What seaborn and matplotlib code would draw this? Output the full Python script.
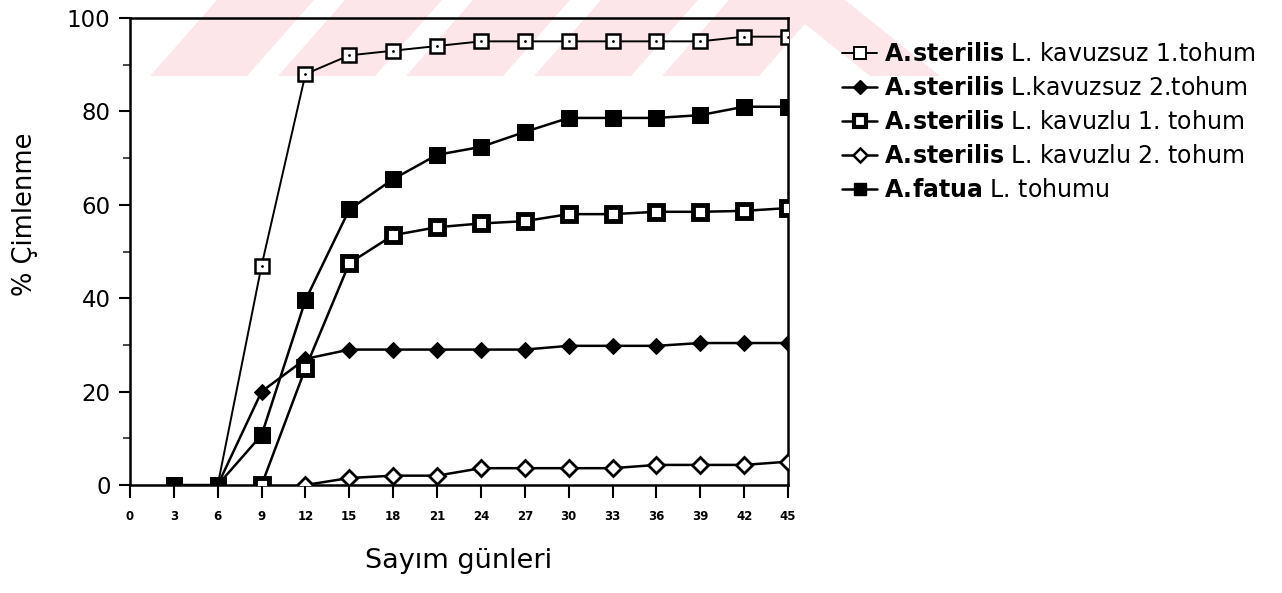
import matplotlib
matplotlib.use("Agg")
import matplotlib.pyplot as plt
from matplotlib.lines import Line2D
from matplotlib.patches import Polygon
import seaborn as sns

sns.set_theme(style="white")
plt.rcParams['font.family'] = ['DejaVu Sans']
plt.rcParams['text.color'] = 'black'
plt.rcParams['axes.labelcolor'] = 'black'
plt.rcParams['mathtext.fontset'] = 'custom'
plt.rcParams['mathtext.rm'] = 'DejaVu Sans'
plt.rcParams['mathtext.bf'] = 'DejaVu Sans:bold'

# ---- data ----
days_s1 = [6, 9, 12, 15, 18, 21, 24, 27, 30, 33, 36, 39, 42, 45]
s1_kavuzsuz1 = [0, 47, 88, 92, 93, 94, 95, 95, 95, 95, 95, 95, 96, 96]

days_s2 = [6, 9, 12, 15, 18, 21, 24, 27, 30, 33, 36, 39, 42, 45]
s2_kavuzsuz2 = [0, 20, 27, 29, 29, 29, 29, 29, 29.8, 29.8, 29.8, 30.4, 30.4, 30.4]

days_s3 = [9, 12, 15, 18, 21, 24, 27, 30, 33, 36, 39, 42, 45]
s3_kavuzlu1 = [0, 25, 47.5, 53.5, 55.2, 56, 56.5, 58, 58, 58.5, 58.5, 58.7, 59.3]

days_s4 = [12, 15, 18, 21, 24, 27, 30, 33, 36, 39, 42, 45]
s4_kavuzlu2 = [0, 1.5, 2, 2, 3.6, 3.6, 3.6, 3.6, 4.3, 4.3, 4.3, 5]

days_s5 = [3, 6, 9, 12, 15, 18, 21, 24, 27, 30, 33, 36, 39, 42, 45]
s5_fatua = [0, 0, 10.7, 39.6, 59, 65.5, 70.7, 72.4, 75.6, 78.6, 78.6, 78.6, 79.2, 81, 81]

labels = [r"$\bf{A.\!sterilis}$ L. kavuzsuz 1.tohum",
          r"$\bf{A.\!sterilis}$ L.kavuzsuz 2.tohum",
          r"$\bf{A.\!sterilis}$ L. kavuzlu 1. tohum",
          r"$\bf{A.\!sterilis}$ L. kavuzlu 2. tohum",
          r"$\bf{A.\!fatua}$ L. tohumu"]
xticks = list(range(0, 46, 3))
yticks = [0, 20, 40, 60, 80, 100]

W, H = 1282, 593
fig = plt.figure(figsize=(W / 100, H / 100), dpi=100)
fig.patch.set_facecolor('white')

# faint watermark stripes (background)
pink = '#fce6e9'
def px(x, y):
    return (x / W, 1 - y / H)
for x0 in [150, 278, 406, 534, 662]:
    pts = [px(x0, 76), px(x0 + 97, 76), px(x0 + 164, 0), px(x0 + 67, 0)]
    fig.patches.append(Polygon(pts, closed=True, transform=fig.transFigure,
                               facecolor=pink, edgecolor='none', zorder=-10))
pts = [px(775, 0), px(845, 0), px(940, 76), px(870, 76)]
fig.patches.append(Polygon(pts, closed=True, transform=fig.transFigure,
                           facecolor=pink, edgecolor='none', zorder=-10))

ax = fig.add_axes([130 / W, 1 - 485 / H, (788 - 130) / W, (485 - 18) / H])
ax.set_facecolor('none')

lw = 1.8
sns.lineplot(x=days_s1, y=s1_kavuzsuz1, ax=ax, color='black', lw=1.4,
             marker='s', markersize=10, markerfacecolor='white',
             markeredgecolor='black', markeredgewidth=1.8, zorder=3)
sns.scatterplot(x=days_s1, y=s1_kavuzsuz1, ax=ax, color='black', s=4,
                linewidth=0, zorder=4)
sns.lineplot(x=days_s2, y=s2_kavuzsuz2, ax=ax, color='black', lw=lw,
             marker='D', markersize=8, markerfacecolor='black',
             markeredgecolor='black', zorder=3)
sns.lineplot(x=days_s3, y=s3_kavuzlu1, ax=ax, color='black', lw=lw,
             marker='s', markersize=10, markerfacecolor='white',
             markeredgecolor='black', markeredgewidth=3.5, zorder=3)
sns.lineplot(x=days_s4, y=s4_kavuzlu2, ax=ax, color='black', lw=lw,
             marker='D', markersize=8, markerfacecolor='white',
             markeredgecolor='black', markeredgewidth=2, zorder=3)
sns.lineplot(x=days_s5, y=s5_fatua, ax=ax, color='black', lw=lw,
             marker='s', markersize=11, markerfacecolor='black',
             markeredgecolor='black', zorder=5)

ax.set_xlim(0, 45)
ax.set_ylim(0, 100)
ax.set_xticks(xticks)
ax.set_xticklabels([str(t) for t in xticks], fontsize=8.5, fontweight='bold')
ax.set_yticks(yticks)
ax.set_yticklabels([str(t) for t in yticks], fontsize=16.5)
ax.set_yticks([10, 30, 50, 70, 90], minor=True)
ax.tick_params(axis='x', which='major', direction='out', length=9, width=1.5,
               bottom=True, pad=9, colors='black')
ax.tick_params(axis='y', which='major', direction='out', length=8, width=1.5,
               left=True, pad=6, colors='black')
ax.tick_params(axis='y', which='minor', direction='out', length=5, width=1.2,
               left=True)
for s in ax.spines.values():
    s.set_visible(True)
    s.set_color('black')
    s.set_linewidth(1.8)

ax.set_xlabel("Sayım günleri", fontsize=19.5, labelpad=18, color='black')
ax.set_ylabel("% Çimlenme", fontsize=18.5, color='black')
ax.yaxis.set_label_coords(-0.14, 0.58)

handles = [
    Line2D([], [], color='black', lw=1.4, marker='s', markersize=8,
           markerfacecolor='white', markeredgecolor='black', markeredgewidth=1.4),
    Line2D([], [], color='black', lw=lw, marker='D', markersize=7,
           markerfacecolor='black', markeredgecolor='black'),
    Line2D([], [], color='black', lw=lw, marker='s', markersize=8,
           markerfacecolor='white', markeredgecolor='black', markeredgewidth=3),
    Line2D([], [], color='black', lw=lw, marker='D', markersize=7,
           markerfacecolor='white', markeredgecolor='black', markeredgewidth=1.8),
    Line2D([], [], color='black', lw=lw, marker='s', markersize=9,
           markerfacecolor='black', markeredgecolor='black'),
]
fig.legend(handles, labels, loc='upper left', bbox_to_anchor=(833 / W, 1 - 33 / H),
           frameon=False, fontsize=17, handlelength=1.45, handletextpad=0.3,
           labelspacing=0.42, borderaxespad=0, labelcolor='black')

fig.savefig("out.png", dpi=100, facecolor='white')
